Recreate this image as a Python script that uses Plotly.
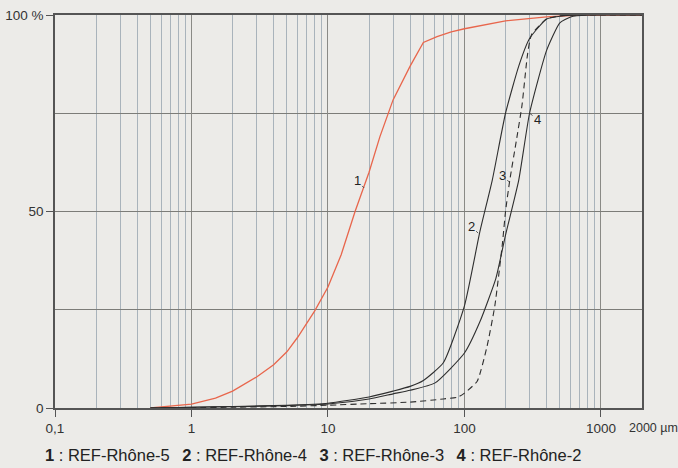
import numpy as np
import plotly.graph_objects as go

# Data (particle size in µm, cumulative %)
x1 = [0.5, 0.7, 1, 1.5, 2, 3, 4, 5, 6, 8, 10, 12.5, 15.8, 20, 24, 30, 40, 50, 63, 80, 100, 200, 400, 700, 2000]
y1 = [0, 0.4, 1, 2.5, 4.3, 7.9, 11.0, 14.3, 18.0, 24.7, 30.8, 39, 50, 60, 69, 78.4, 87, 93, 94.5, 95.7, 96.5, 98.5, 99.5, 100, 100]

x2 = [0.5, 1, 2, 5, 10, 20, 30, 40, 50, 70, 100, 130, 160, 200, 250, 300, 400, 500, 700, 2000]
y2 = [0, 0.2, 0.4, 0.7, 1.2, 2.8, 4.3, 5.5, 7, 11.5, 26, 45, 58, 75, 87, 94, 99, 99.7, 100, 100]

x3 = [0.5, 1, 2, 5, 10, 20, 40, 70, 90, 100, 124, 146, 167, 190, 200, 215, 240, 264, 290, 310, 400, 500, 700, 2000]
y3 = [0, 0.1, 0.2, 0.4, 0.7, 1.1, 1.5, 2.3, 2.8, 3.8, 6.8, 15.5, 26, 42, 50, 58, 68, 77, 90, 95, 99, 99.8, 100, 100]

x4 = [0.5, 1, 2, 5, 10, 20, 30, 40, 61, 100, 130, 170, 200, 250, 300, 400, 500, 600, 800, 2000]
y4 = [0, 0.2, 0.3, 0.6, 1, 2.3, 3.6, 4.5, 6.4, 14, 22, 33, 44, 58, 75, 91, 98, 99.5, 100, 100]

x_tickvals = [0.1, 1, 10, 100, 1000]
x_ticktext = ["0,1", "1", "10", "100", "1000"]
y_tickvals = [0, 50, 100]
y_ticktext = ["0", "50", "100 %"]

labels = ["1", "2", "3", "4"]
label_pts = [(18.4, 56), (126, 44.5), (213, 57.5), (300, 75)]
label_off = [(-7, -7), (-7, -7), (-7, -7), (8, 6)]
sep = "  \u2009"
legend_html = ("<b>1</b> : REF-Rhône-5" + sep + "<b>2</b> : REF-Rhône-4" + sep +
               "<b>3</b> : REF-Rhône-3" + sep + "<b>4</b> : REF-Rhône-2")

bg = "#ecebe8"
fig = go.Figure()
fig.add_trace(go.Scatter(x=x1, y=y1, mode="lines", line=dict(color="#e8664c", width=1.3)))
fig.add_trace(go.Scatter(x=x2, y=y2, mode="lines",
                         line=dict(color="#2e2e2e", width=1.1, shape="spline", smoothing=0.5)))
fig.add_trace(go.Scatter(x=x3, y=y3, mode="lines",
                         line=dict(color="#2e2e2e", width=1.1, dash="6px,4px", shape="spline", smoothing=0.5)))
fig.add_trace(go.Scatter(x=x4, y=y4, mode="lines",
                         line=dict(color="#2e2e2e", width=1.1, shape="spline", smoothing=0.5)))

for t, (px, py), (ax, ay) in zip(labels, label_pts, label_off):
    fig.add_annotation(x=np.log10(px), y=py, xref="x", yref="y", text=t, showarrow=True,
                       arrowhead=0, arrowwidth=0.8, arrowcolor="#333", ax=ax, ay=ay,
                       standoff=0, font=dict(size=13, color="#222"))

fig.add_annotation(x=np.log10(2000), y=0, xref="x", yref="paper", text="2000 µm",
                   showarrow=False, xanchor="left", yanchor="top", xshift=-15, yshift=-11,
                   font=dict(size=12.5, color="#333"))
fig.add_annotation(x=-12 / 587, y=-47 / 393, xref="paper", yref="paper", text=legend_html,
                   showarrow=False, xanchor="left", yanchor="middle",
                   font=dict(size=16.5, color="#222"))

fig.update_xaxes(type="log", range=[-1, np.log10(2000)], tickvals=x_tickvals, ticktext=x_ticktext,
                 ticks="outside", ticklen=7, tickcolor="#555", showgrid=True, gridcolor="#8a8a86",
                 gridwidth=1, minor=dict(dtick="D1", showgrid=True, gridcolor="#a9b3bb", gridwidth=1),
                 showline=True, linecolor="#555", linewidth=1.5, mirror=True, zeroline=False,
                 automargin=False, tickfont=dict(size=13.5, color="#333"))
fig.add_trace(go.Scatter(x=[2000], y=[0], mode="markers", marker=dict(opacity=0), hoverinfo="skip"))
fig.update_yaxes(range=[0, 100], tickvals=y_tickvals, ticktext=y_ticktext, ticks="outside",
                 ticklen=7, tickcolor="#555", showgrid=True, gridcolor="#7c7c78", gridwidth=1,
                 minor=dict(dtick=25, showgrid=True, gridcolor="#7c7c78", gridwidth=1),
                 showline=True, linecolor="#555", linewidth=1.5, mirror=True, zeroline=False,
                 automargin=False, tickfont=dict(size=13.5, color="#333"))
fig.update_layout(width=678, height=468, margin=dict(l=55, r=36, t=15, b=60, autoexpand=False),
                  paper_bgcolor=bg, plot_bgcolor=bg, showlegend=False,
                  font=dict(family="Liberation Sans, Arial, sans-serif"))
fig.write_html("out.html")
